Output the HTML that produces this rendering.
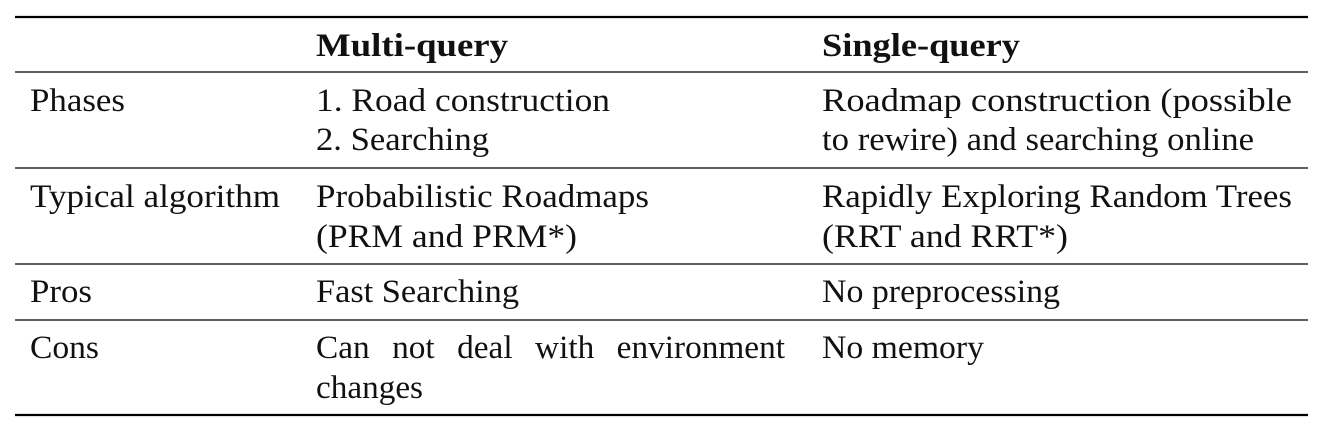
<!DOCTYPE html>
<html><head><meta charset="utf-8"><style>
html,body{margin:0;padding:0;background:#fff;width:1324px;height:430px;overflow:hidden}
</style></head><body>
<svg width="1324" height="430" font-family="Liberation Serif, DejaVu Serif, serif" font-size="33" fill="#111">
<line x1="15" x2="1308" y1="17" y2="17" stroke="#000" stroke-width="2.2"/>
<line x1="15" x2="1308" y1="72" y2="72" stroke="#000" stroke-width="1.2"/>
<line x1="15" x2="1308" y1="168" y2="168" stroke="#000" stroke-width="1.2"/>
<line x1="15" x2="1308" y1="264" y2="264" stroke="#000" stroke-width="1.2"/>
<line x1="15" x2="1308" y1="320" y2="320" stroke="#000" stroke-width="1.2"/>
<line x1="15" x2="1308" y1="415" y2="415" stroke="#000" stroke-width="2.2"/>

<text font-weight="bold" x="316" y="56" textLength="192" lengthAdjust="spacingAndGlyphs">Multi-query</text>
<text font-weight="bold" x="822" y="56" textLength="198" lengthAdjust="spacingAndGlyphs">Single-query</text>

<text x="30" y="111" textLength="95" lengthAdjust="spacingAndGlyphs">Phases</text>
<text x="316" y="111" textLength="294" lengthAdjust="spacingAndGlyphs">1. Road construction</text>
<text x="316" y="150" textLength="173" lengthAdjust="spacingAndGlyphs">2. Searching</text>
<text x="822" y="111" textLength="470" lengthAdjust="spacingAndGlyphs">Roadmap construction (possible</text>
<text x="822" y="150" textLength="432" lengthAdjust="spacingAndGlyphs">to rewire) and searching online</text>

<text x="30" y="207" textLength="250" lengthAdjust="spacingAndGlyphs">Typical algorithm</text>
<text x="316" y="207" textLength="333" lengthAdjust="spacingAndGlyphs">Probabilistic Roadmaps</text>
<text x="316" y="247" textLength="261" lengthAdjust="spacingAndGlyphs">(PRM and PRM*)</text>
<text x="822" y="207" textLength="470" lengthAdjust="spacingAndGlyphs">Rapidly Exploring Random Trees</text>
<text x="822" y="247" textLength="246" lengthAdjust="spacingAndGlyphs">(RRT and RRT*)</text>

<text x="30" y="302" textLength="62" lengthAdjust="spacingAndGlyphs">Pros</text>
<text x="316" y="302" textLength="203" lengthAdjust="spacingAndGlyphs">Fast Searching</text>
<text x="822" y="302" textLength="238" lengthAdjust="spacingAndGlyphs">No preprocessing</text>

<text x="30" y="358" textLength="69" lengthAdjust="spacingAndGlyphs">Cons</text>
<text x="316" y="358" word-spacing="14" textLength="469" lengthAdjust="spacingAndGlyphs">Can not deal with environment</text>
<text x="316" y="398" textLength="107" lengthAdjust="spacingAndGlyphs">changes</text>
<text x="822" y="358" textLength="162" lengthAdjust="spacingAndGlyphs">No memory</text>
</svg>
</body></html>
